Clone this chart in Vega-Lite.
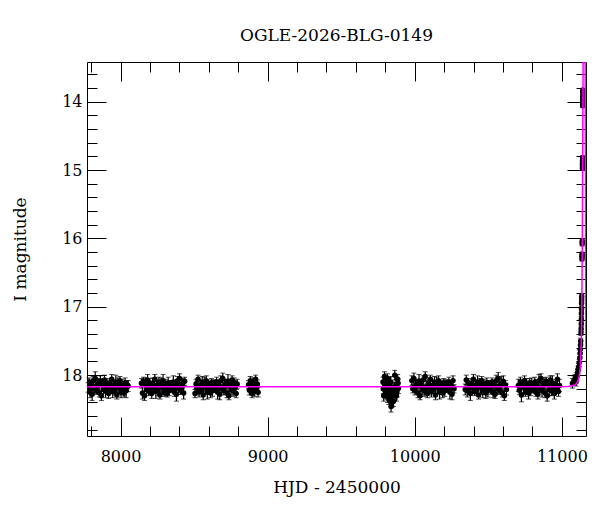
{
  "$schema": "https://vega.github.io/schema/vega-lite/v6.json",
  "autosize": "none",
  "width": 499,
  "height": 374,
  "padding": {"left": 87, "top": 62, "right": 14, "bottom": 76},
  "background": "white",
  "title": {"text": "OGLE-2026-BLG-0149", "font": "DejaVu Serif", "fontSize": 17, "fontWeight": "normal", "color": "black", "anchor": "middle", "offset": 15},
  "config": {
    "view": {"stroke": "black", "strokeWidth": 1},
    "axis": {"grid": false, "domain": false, "tickColor": "black", "tickWidth": 1, "labelFont": "DejaVu Serif", "labelFontSize": 16, "labelColor": "black", "titleFont": "DejaVu Serif", "titleFontSize": 17, "titleFontWeight": "normal", "titleColor": "black", "labelOverlap": false, "labelFlush": false}
  },
  "datasets": {
    "obs": [
      {"t":7779,"m":18.18,"e":0.07},{"t":7786,"m":18.10,"e":0.06},{"t":7793,"m":18.25,"e":0.08},{"t":7800,"m":18.15,"e":0.07},{"t":7807,"m":18.28,"e":0.09},{"t":7814,"m":18.08,"e":0.06},{"t":7821,"m":18.20,"e":0.07},{"t":7828,"m":18.05,"e":0.10},{"t":7835,"m":18.22,"e":0.06},{"t":7842,"m":18.16,"e":0.08},
      {"t":7849,"m":18.12,"e":0.07},{"t":7856,"m":18.26,"e":0.06},{"t":7863,"m":18.09,"e":0.08},{"t":7870,"m":18.30,"e":0.07},{"t":7877,"m":18.14,"e":0.09},{"t":7884,"m":18.21,"e":0.06},{"t":7891,"m":18.07,"e":0.07},{"t":7898,"m":18.23,"e":0.10},{"t":7905,"m":18.11,"e":0.06},{"t":7912,"m":18.17,"e":0.08},
      {"t":7919,"m":18.27,"e":0.07},{"t":7926,"m":18.13,"e":0.06},{"t":7933,"m":18.19,"e":0.08},{"t":7940,"m":18.06,"e":0.07},{"t":7947,"m":18.24,"e":0.09},{"t":7954,"m":18.15,"e":0.06},{"t":7961,"m":18.22,"e":0.07},{"t":7968,"m":18.10,"e":0.10},{"t":7975,"m":18.29,"e":0.06},{"t":7982,"m":18.12,"e":0.08},
      {"t":7989,"m":18.18,"e":0.07},{"t":7996,"m":18.08,"e":0.06},{"t":8003,"m":18.25,"e":0.08},{"t":8010,"m":18.13,"e":0.07},{"t":8017,"m":18.20,"e":0.09},{"t":8024,"m":18.26,"e":0.06},{"t":8031,"m":18.11,"e":0.07},{"t":8038,"m":18.23,"e":0.10},{"t":8045,"m":18.14,"e":0.06},{"t":8052,"m":18.16,"e":0.08},
      {"t":8142,"m":18.12,"e":0.07},{"t":8149,"m":18.26,"e":0.09},{"t":8156,"m":18.09,"e":0.06},{"t":8163,"m":18.30,"e":0.07},{"t":8170,"m":18.14,"e":0.10},{"t":8177,"m":18.21,"e":0.06},{"t":8184,"m":18.07,"e":0.08},{"t":8191,"m":18.23,"e":0.07},{"t":8198,"m":18.11,"e":0.06},{"t":8205,"m":18.17,"e":0.08},
      {"t":8212,"m":18.27,"e":0.07},{"t":8219,"m":18.13,"e":0.09},{"t":8226,"m":18.19,"e":0.06},{"t":8233,"m":18.06,"e":0.07},{"t":8240,"m":18.24,"e":0.10},{"t":8247,"m":18.15,"e":0.06},{"t":8254,"m":18.22,"e":0.08},{"t":8261,"m":18.10,"e":0.07},{"t":8268,"m":18.29,"e":0.06},{"t":8275,"m":18.12,"e":0.08},
      {"t":8282,"m":18.18,"e":0.07},{"t":8289,"m":18.08,"e":0.09},{"t":8296,"m":18.25,"e":0.06},{"t":8303,"m":18.13,"e":0.07},{"t":8310,"m":18.20,"e":0.10},{"t":8317,"m":18.26,"e":0.06},{"t":8324,"m":18.11,"e":0.08},{"t":8331,"m":18.23,"e":0.07},{"t":8338,"m":18.14,"e":0.06},{"t":8345,"m":18.16,"e":0.08},
      {"t":8352,"m":18.18,"e":0.07},{"t":8359,"m":18.10,"e":0.09},{"t":8366,"m":18.25,"e":0.06},{"t":8373,"m":18.15,"e":0.07},{"t":8380,"m":18.28,"e":0.10},{"t":8387,"m":18.08,"e":0.06},{"t":8394,"m":18.20,"e":0.08},{"t":8401,"m":18.05,"e":0.07},{"t":8408,"m":18.22,"e":0.06},{"t":8415,"m":18.16,"e":0.08},
      {"t":8422,"m":18.12,"e":0.07},{"t":8429,"m":18.26,"e":0.09},{"t":8436,"m":18.09,"e":0.06},
      {"t":8506,"m":18.27,"e":0.06},{"t":8513,"m":18.13,"e":0.07},{"t":8520,"m":18.19,"e":0.10},{"t":8527,"m":18.06,"e":0.06},{"t":8534,"m":18.24,"e":0.08},{"t":8541,"m":18.15,"e":0.07},{"t":8548,"m":18.22,"e":0.06},{"t":8555,"m":18.10,"e":0.08},{"t":8562,"m":18.29,"e":0.07},{"t":8569,"m":18.12,"e":0.09},
      {"t":8576,"m":18.18,"e":0.06},{"t":8583,"m":18.08,"e":0.07},{"t":8590,"m":18.25,"e":0.10},{"t":8597,"m":18.13,"e":0.06},{"t":8604,"m":18.20,"e":0.08},{"t":8611,"m":18.26,"e":0.07},{"t":8618,"m":18.11,"e":0.06},{"t":8625,"m":18.23,"e":0.08},{"t":8632,"m":18.14,"e":0.07},{"t":8639,"m":18.16,"e":0.09},
      {"t":8646,"m":18.18,"e":0.06},{"t":8653,"m":18.10,"e":0.07},{"t":8660,"m":18.25,"e":0.10},{"t":8667,"m":18.15,"e":0.06},{"t":8674,"m":18.28,"e":0.08},{"t":8681,"m":18.08,"e":0.07},{"t":8688,"m":18.20,"e":0.06},{"t":8695,"m":18.05,"e":0.08},{"t":8702,"m":18.22,"e":0.07},{"t":8709,"m":18.16,"e":0.09},
      {"t":8716,"m":18.12,"e":0.06},{"t":8723,"m":18.26,"e":0.07},{"t":8730,"m":18.09,"e":0.10},{"t":8737,"m":18.30,"e":0.06},{"t":8744,"m":18.14,"e":0.08},{"t":8751,"m":18.21,"e":0.07},{"t":8758,"m":18.07,"e":0.06},{"t":8765,"m":18.23,"e":0.08},{"t":8772,"m":18.11,"e":0.07},{"t":8779,"m":18.17,"e":0.09},
      {"t":8786,"m":18.27,"e":0.06},{"t":8793,"m":18.13,"e":0.07},
      {"t":8870,"m":18.14,"e":0.06},{"t":8876,"m":18.22,"e":0.07},{"t":8882,"m":18.08,"e":0.06},{"t":8888,"m":18.19,"e":0.07},{"t":8894,"m":18.27,"e":0.06},{"t":8900,"m":18.11,"e":0.07},{"t":8906,"m":18.16,"e":0.06},{"t":8912,"m":18.24,"e":0.07},{"t":8918,"m":18.06,"e":0.06},{"t":8924,"m":18.20,"e":0.07},{"t":8930,"m":18.13,"e":0.06},{"t":8935,"m":18.25,"e":0.07},
      {"t":9784,"m":18.10,"e":0.07},{"t":9789,"m":18.30,"e":0.08},{"t":9794,"m":18.02,"e":0.07},{"t":9799,"m":18.22,"e":0.09},{"t":9804,"m":18.28,"e":0.07},{"t":9809,"m":18.15,"e":0.08},{"t":9814,"m":18.05,"e":0.07},{"t":9819,"m":18.25,"e":0.08},{"t":9824,"m":18.36,"e":0.07},{"t":9829,"m":18.12,"e":0.08},
      {"t":9834,"m":18.33,"e":0.07},{"t":9839,"m":18.46,"e":0.08},{"t":9844,"m":18.40,"e":0.07},{"t":9849,"m":18.25,"e":0.08},{"t":9854,"m":18.30,"e":0.07},{"t":9859,"m":18.18,"e":0.08},{"t":9864,"m":18.00,"e":0.07},{"t":9869,"m":18.27,"e":0.08},{"t":9874,"m":18.14,"e":0.07},{"t":9879,"m":18.24,"e":0.08},{"t":9884,"m":18.06,"e":0.07},{"t":9889,"m":18.19,"e":0.08},
      {"t":9786,"m":18.20,"e":0.07},{"t":9796,"m":18.14,"e":0.08},{"t":9806,"m":18.08,"e":0.07},{"t":9816,"m":18.32,"e":0.08},{"t":9826,"m":18.22,"e":0.07},{"t":9836,"m":18.10,"e":0.08},{"t":9846,"m":18.18,"e":0.07},{"t":9856,"m":18.38,"e":0.08},{"t":9866,"m":18.22,"e":0.07},{"t":9876,"m":18.30,"e":0.08},{"t":9886,"m":18.12,"e":0.07},
      {"t":9980,"m":18.08,"e":0.07},{"t":9987,"m":18.20,"e":0.06},{"t":9994,"m":18.05,"e":0.08},{"t":10001,"m":18.22,"e":0.07},{"t":10008,"m":18.16,"e":0.09},{"t":10015,"m":18.12,"e":0.06},{"t":10022,"m":18.26,"e":0.07},{"t":10029,"m":18.09,"e":0.10},{"t":10036,"m":18.30,"e":0.06},{"t":10043,"m":18.14,"e":0.08},
      {"t":10050,"m":18.21,"e":0.07},{"t":10057,"m":18.07,"e":0.06},{"t":10064,"m":18.23,"e":0.08},{"t":10071,"m":18.02,"e":0.07},{"t":10078,"m":18.17,"e":0.09},{"t":10085,"m":18.27,"e":0.06},{"t":10092,"m":18.13,"e":0.07},{"t":10099,"m":18.19,"e":0.10},{"t":10106,"m":18.06,"e":0.06},{"t":10113,"m":18.24,"e":0.08},
      {"t":10120,"m":18.15,"e":0.07},{"t":10127,"m":18.22,"e":0.06},{"t":10134,"m":18.10,"e":0.08},{"t":10141,"m":18.29,"e":0.07},{"t":10148,"m":18.12,"e":0.09},{"t":10155,"m":18.18,"e":0.06},{"t":10162,"m":18.08,"e":0.07},{"t":10169,"m":18.25,"e":0.10},{"t":10176,"m":18.13,"e":0.06},{"t":10183,"m":18.20,"e":0.08},
      {"t":10190,"m":18.26,"e":0.07},{"t":10197,"m":18.11,"e":0.06},{"t":10204,"m":18.23,"e":0.08},{"t":10211,"m":18.14,"e":0.07},{"t":10218,"m":18.16,"e":0.09},{"t":10225,"m":18.18,"e":0.06},{"t":10232,"m":18.10,"e":0.07},{"t":10239,"m":18.25,"e":0.10},{"t":10246,"m":18.15,"e":0.06},{"t":10253,"m":18.28,"e":0.08},
      {"t":10260,"m":18.08,"e":0.07},{"t":10267,"m":18.20,"e":0.06},
      {"t":10343,"m":18.21,"e":0.08},{"t":10350,"m":18.07,"e":0.07},{"t":10357,"m":18.23,"e":0.09},{"t":10364,"m":18.11,"e":0.06},{"t":10371,"m":18.17,"e":0.07},{"t":10378,"m":18.27,"e":0.10},{"t":10385,"m":18.13,"e":0.06},{"t":10392,"m":18.19,"e":0.08},{"t":10399,"m":18.06,"e":0.07},{"t":10406,"m":18.24,"e":0.06},
      {"t":10413,"m":18.15,"e":0.08},{"t":10420,"m":18.22,"e":0.07},{"t":10427,"m":18.10,"e":0.09},{"t":10434,"m":18.29,"e":0.06},{"t":10441,"m":18.12,"e":0.07},{"t":10448,"m":18.18,"e":0.10},{"t":10455,"m":18.08,"e":0.06},{"t":10462,"m":18.25,"e":0.08},{"t":10469,"m":18.13,"e":0.07},{"t":10476,"m":18.20,"e":0.06},
      {"t":10483,"m":18.26,"e":0.08},{"t":10490,"m":18.11,"e":0.07},{"t":10497,"m":18.23,"e":0.09},{"t":10504,"m":18.14,"e":0.06},{"t":10511,"m":18.16,"e":0.07},{"t":10518,"m":18.18,"e":0.10},{"t":10525,"m":18.10,"e":0.06},{"t":10532,"m":18.25,"e":0.08},{"t":10539,"m":18.15,"e":0.07},{"t":10546,"m":18.28,"e":0.06},
      {"t":10553,"m":18.08,"e":0.08},{"t":10560,"m":18.20,"e":0.07},{"t":10567,"m":18.05,"e":0.09},{"t":10574,"m":18.22,"e":0.06},{"t":10581,"m":18.16,"e":0.07},{"t":10588,"m":18.12,"e":0.10},{"t":10595,"m":18.26,"e":0.06},{"t":10602,"m":18.09,"e":0.08},{"t":10609,"m":18.30,"e":0.07},{"t":10616,"m":18.14,"e":0.06},
      {"t":10623,"m":18.21,"e":0.08},
      {"t":10704,"m":18.15,"e":0.09},{"t":10711,"m":18.22,"e":0.06},{"t":10718,"m":18.10,"e":0.07},{"t":10725,"m":18.29,"e":0.10},{"t":10732,"m":18.12,"e":0.06},{"t":10739,"m":18.18,"e":0.08},{"t":10746,"m":18.08,"e":0.07},{"t":10753,"m":18.25,"e":0.06},{"t":10760,"m":18.13,"e":0.08},{"t":10767,"m":18.20,"e":0.07},
      {"t":10774,"m":18.26,"e":0.09},{"t":10781,"m":18.11,"e":0.06},{"t":10788,"m":18.23,"e":0.07},{"t":10795,"m":18.14,"e":0.10},{"t":10802,"m":18.16,"e":0.06},{"t":10809,"m":18.18,"e":0.08},{"t":10816,"m":18.10,"e":0.07},{"t":10823,"m":18.25,"e":0.06},{"t":10830,"m":18.15,"e":0.08},{"t":10837,"m":18.28,"e":0.07},
      {"t":10844,"m":18.08,"e":0.09},{"t":10851,"m":18.20,"e":0.06},{"t":10858,"m":18.05,"e":0.07},{"t":10865,"m":18.22,"e":0.10},{"t":10872,"m":18.16,"e":0.06},{"t":10879,"m":18.12,"e":0.08},{"t":10886,"m":18.26,"e":0.07},{"t":10893,"m":18.09,"e":0.06},{"t":10900,"m":18.30,"e":0.08},{"t":10907,"m":18.14,"e":0.07},
      {"t":10914,"m":18.21,"e":0.09},{"t":10921,"m":18.07,"e":0.06},{"t":10928,"m":18.23,"e":0.07},{"t":10935,"m":18.11,"e":0.10},{"t":10942,"m":18.17,"e":0.06},{"t":10949,"m":18.27,"e":0.08},{"t":10956,"m":18.13,"e":0.07},{"t":10963,"m":18.19,"e":0.06},{"t":10970,"m":18.06,"e":0.08},{"t":10977,"m":18.24,"e":0.07},
      {"t":10984,"m":18.15,"e":0.09},
      {"t":11072,"m":18.12,"e":0.07},{"t":11082,"m":18.08,"e":0.07},{"t":11090,"m":18.05,"e":0.06},{"t":11096,"m":18.10,"e":0.06},{"t":11102,"m":18.02,"e":0.06},{"t":11106,"m":17.97,"e":0.06},{"t":11110,"m":17.92,"e":0.05},{"t":11114,"m":17.88,"e":0.05},{"t":11118,"m":17.82,"e":0.05},{"t":11122,"m":17.75,"e":0.05},
      {"t":11124,"m":17.68,"e":0.05},{"t":11125,"m":17.62,"e":0.05},{"t":11127,"m":17.56,"e":0.05},{"t":11128,"m":17.50,"e":0.04},{"t":11130,"m":17.38,"e":0.04},{"t":11131,"m":17.32,"e":0.04},{"t":11132,"m":17.25,"e":0.04},{"t":11132.5,"m":17.18,"e":0.04},{"t":11133,"m":17.10,"e":0.04},{"t":11133.5,"m":17.03,"e":0.04},{"t":11134,"m":16.95,"e":0.04},{"t":11134.5,"m":16.90,"e":0.03},{"t":11135,"m":16.85,"e":0.03},
      {"t":11136.8,"m":16.30,"e":0.03},{"t":11137,"m":16.26,"e":0.03},{"t":11137.2,"m":16.23,"e":0.03},{"t":11138,"m":16.08,"e":0.03},{"t":11138.2,"m":16.04,"e":0.03},
      {"t":11139.8,"m":14.97,"e":0.03},{"t":11140,"m":14.93,"e":0.03},{"t":11140.2,"m":14.90,"e":0.03},{"t":11140.5,"m":14.86,"e":0.03},{"t":11140.7,"m":14.82,"e":0.03},
      {"t":11141.3,"m":14.06,"e":0.02},{"t":11141.5,"m":14.02,"e":0.02},{"t":11141.7,"m":13.97,"e":0.02},{"t":11141.9,"m":13.92,"e":0.02},{"t":11142,"m":13.87,"e":0.02},{"t":11142.1,"m":13.83,"e":0.02}
    ],
    "model": [
      {"t":7772,"m":18.17},{"t":10950,"m":18.17},{"t":11040,"m":18.165},{"t":11070,"m":18.155},{"t":11090,"m":18.14},{"t":11100,"m":18.12},{"t":11110,"m":18.08},{"t":11118,"m":18.01},{"t":11124,"m":17.91},{"t":11128,"m":17.76},{"t":11132,"m":17.5},{"t":11135,"m":17.1},
      {"t":11137,"m":16.6},{"t":11139,"m":16.0},{"t":11141,"m":15.0},{"t":11143,"m":14.0},{"t":11144.5,"m":13.43},{"t":11158,"m":13.43},{"t":11161,"m":15.3},{"t":11163,"m":17.3},{"t":11164,"m":17.6}
    ]
  },
  "resolve": {"axis": {"x": "independent", "y": "independent"}},
  "layer": [
    {
      "data": {"name": "obs"},
      "mark": {"type": "errorbar", "ticks": {"size": 5, "thickness": 1, "color": "black"}, "rule": {"strokeWidth": 1.2, "color": "black"}, "color": "black"},
      "encoding": {
        "x": {"field": "t", "type": "quantitative", "scale": {"domain": [7772, 11164], "nice": false, "zero": false},
              "axis": {"orient": "top", "values": [8000, 9000, 10000, 11000], "tickSize": -19, "labels": false, "title": null}},
        "y": {"field": "m", "type": "quantitative", "scale": {"domain": [13.42, 18.89], "reverse": true, "nice": false, "zero": false},
              "axis": {"orient": "right", "values": [14, 15, 16, 17, 18], "tickSize": -19, "labels": false, "title": null}},
        "yError": {"field": "e"}
      }
    },
    {
      "data": {"name": "obs"},
      "mark": {"type": "circle", "size": 30, "color": "black", "opacity": 1, "clip": true},
      "encoding": {
        "x": {"field": "t", "type": "quantitative", "scale": {"domain": [7772, 11164], "nice": false, "zero": false},
              "axis": {"orient": "bottom", "values": [8000, 9000, 10000, 11000], "format": "d", "tickSize": -19, "labelPadding": 31, "title": "HJD - 2450000", "titlePadding": 15}},
        "y": {"field": "m", "type": "quantitative", "scale": {"domain": [13.42, 18.89], "reverse": true, "nice": false, "zero": false},
              "axis": {"orient": "left", "values": [14, 15, 16, 17, 18], "format": "d", "tickSize": -19, "labelPadding": 24, "title": "I magnitude", "titlePadding": 32}}
      }
    },
    {
      "data": {"name": "model"},
      "mark": {"type": "point", "opacity": 0},
      "encoding": {
        "x": {"field": "t", "type": "quantitative", "scale": {"domain": [7772, 11164], "nice": false, "zero": false},
              "axis": {"orient": "top", "values": [7800, 8000, 8200, 8400, 8600, 8800, 9000, 9200, 9400, 9600, 9800, 10000, 10200, 10400, 10600, 10800, 11000], "tickSize": -10, "labels": false, "title": null}},
        "y": {"field": "m", "type": "quantitative", "scale": {"domain": [13.42, 18.89], "reverse": true, "nice": false, "zero": false},
              "axis": {"orient": "right", "values": [13.6, 13.8, 14, 14.2, 14.4, 14.6, 14.8, 15, 15.2, 15.4, 15.6, 15.8, 16, 16.2, 16.4, 16.6, 16.8, 17, 17.2, 17.4, 17.6, 17.8, 18, 18.2, 18.4, 18.6, 18.8], "tickSize": -10, "labels": false, "title": null}}
      }
    },
    {
      "data": {"name": "model"},
      "mark": {"type": "line", "color": "#ff00ff", "strokeWidth": 1.5, "clip": true},
      "encoding": {
        "x": {"field": "t", "type": "quantitative", "scale": {"domain": [7772, 11164], "nice": false, "zero": false},
              "axis": {"orient": "bottom", "values": [7800, 8000, 8200, 8400, 8600, 8800, 9000, 9200, 9400, 9600, 9800, 10000, 10200, 10400, 10600, 10800, 11000], "tickSize": -10, "labels": false, "title": null}},
        "y": {"field": "m", "type": "quantitative", "scale": {"domain": [13.42, 18.89], "reverse": true, "nice": false, "zero": false},
              "axis": {"orient": "left", "values": [13.6, 13.8, 14, 14.2, 14.4, 14.6, 14.8, 15, 15.2, 15.4, 15.6, 15.8, 16, 16.2, 16.4, 16.6, 16.8, 17, 17.2, 17.4, 17.6, 17.8, 18, 18.2, 18.4, 18.6, 18.8], "tickSize": -10, "labels": false, "title": null}}
      }
    }
  ]
}
